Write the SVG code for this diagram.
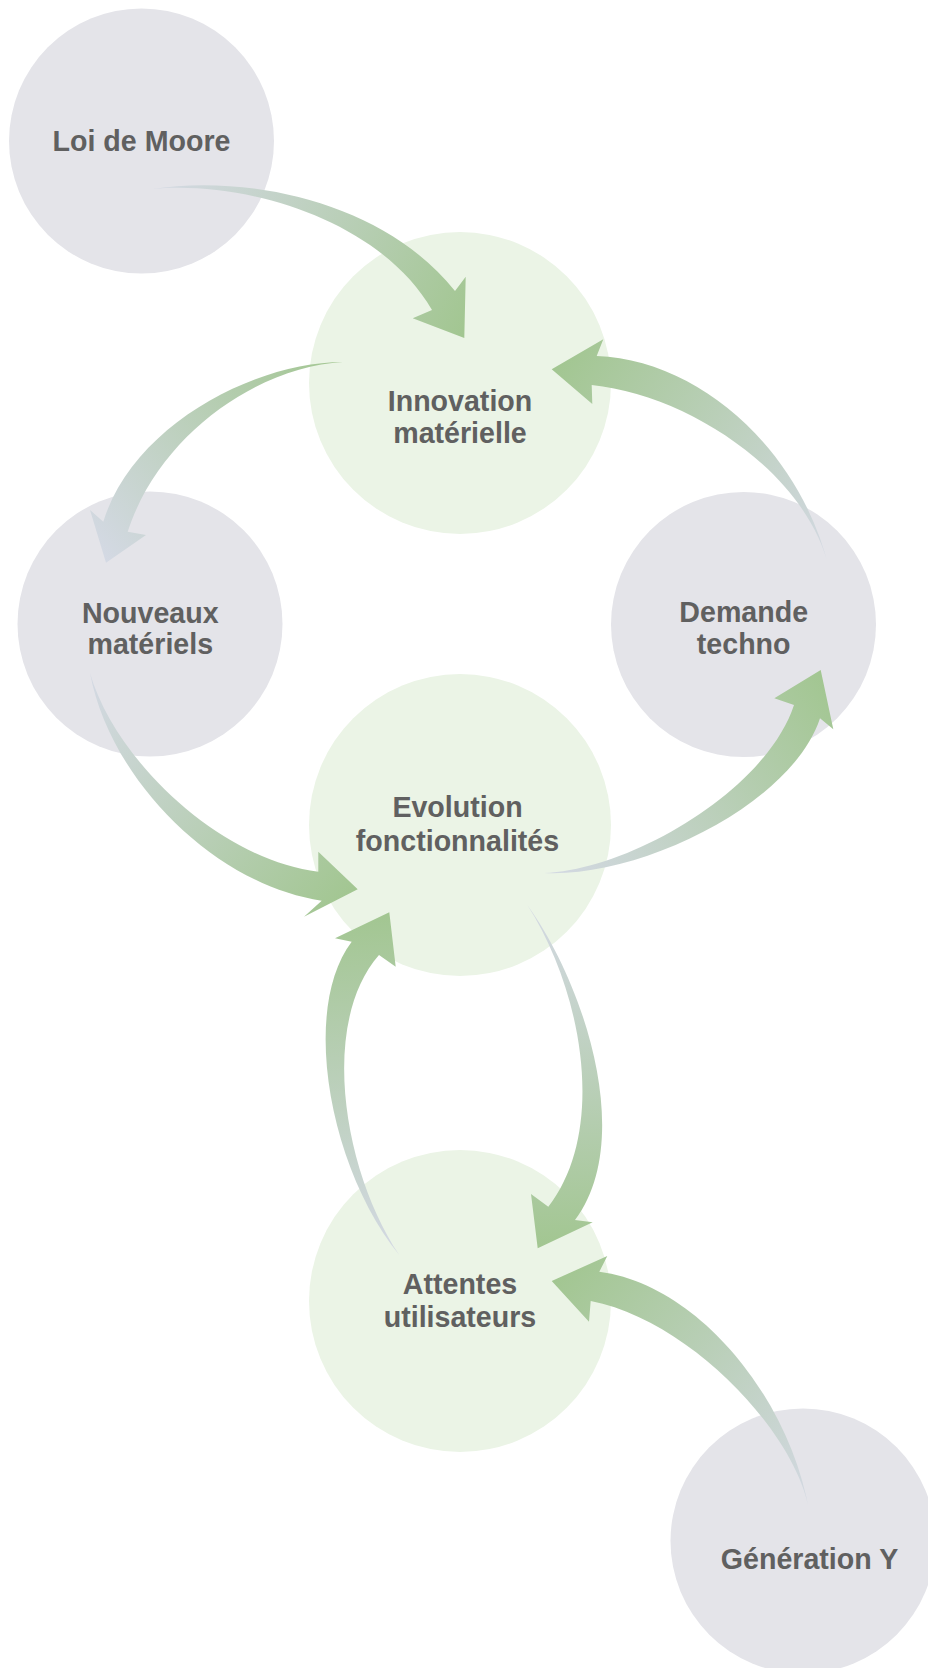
<svg xmlns="http://www.w3.org/2000/svg" width="928" height="1668" viewBox="0 0 928 1668">
  <style>
    .n-gray{fill:#e4e4e9}
    .n-green{fill:#ebf4e6}
    .label{font-family:"Liberation Sans",Arial,Helvetica,sans-serif;font-weight:bold;font-size:28.6px;fill:#606060;text-anchor:middle}
    .s-gray{stop-color:#d4d9e4}
    .s-green{stop-color:#a2c691}
  </style>
  <defs>
    <!-- each gradient runs from the arrow's tail to its tip -->
    <linearGradient id="gr-moore" gradientUnits="userSpaceOnUse" x1="152" y1="189" x2="464" y2="338">
      <stop offset="0" class="s-gray"/><stop offset="1" class="s-green"/>
    </linearGradient>
    <linearGradient id="gr-nouveaux" gradientUnits="userSpaceOnUse" x1="343" y1="362" x2="106" y2="563">
      <stop offset="0" class="s-green"/><stop offset="1" class="s-gray"/>
    </linearGradient>
    <linearGradient id="gr-demande" gradientUnits="userSpaceOnUse" x1="829" y1="568" x2="552" y2="369">
      <stop offset="0" class="s-gray"/><stop offset="1" class="s-green"/>
    </linearGradient>
    <linearGradient id="gr-nouv-evo" gradientUnits="userSpaceOnUse" x1="90" y1="673" x2="358" y2="889">
      <stop offset="0" class="s-gray"/><stop offset="1" class="s-green"/>
    </linearGradient>
    <linearGradient id="gr-evo-dem" gradientUnits="userSpaceOnUse" x1="544" y1="873" x2="821" y2="670">
      <stop offset="0" class="s-gray"/><stop offset="1" class="s-green"/>
    </linearGradient>
    <linearGradient id="gr-evo-att" gradientUnits="userSpaceOnUse" x1="527" y1="905" x2="538" y2="1248">
      <stop offset="0" class="s-gray"/><stop offset="1" class="s-green"/>
    </linearGradient>
    <linearGradient id="gr-att-evo" gradientUnits="userSpaceOnUse" x1="399" y1="1255" x2="389" y2="912">
      <stop offset="0" class="s-gray"/><stop offset="1" class="s-green"/>
    </linearGradient>
    <linearGradient id="gr-geny" gradientUnits="userSpaceOnUse" x1="809" y1="1512" x2="552" y2="1281">
      <stop offset="0" class="s-gray"/><stop offset="1" class="s-green"/>
    </linearGradient>
  </defs>

  <g id="nodes">
    <g id="loi-de-moore">
      <circle class="n-gray" cx="141.5" cy="141" r="132.5"/>
      <text class="label" x="141.5" y="151">Loi de Moore</text>
    </g>
    <g id="innovation-materielle">
      <circle class="n-green" cx="460" cy="383" r="151"/>
      <text class="label" x="460" y="410.7">Innovation</text>
      <text class="label" x="460" y="443">matérielle</text>
    </g>
    <g id="nouveaux-materiels">
      <circle class="n-gray" cx="150" cy="624" r="132.5"/>
      <text class="label" x="150.3" y="622.7">Nouveaux</text>
      <text class="label" x="150.3" y="654.3">matériels</text>
    </g>
    <g id="demande-techno">
      <circle class="n-gray" cx="743.5" cy="624.5" r="132.5"/>
      <text class="label" x="743.7" y="622.3">Demande</text>
      <text class="label" x="743.7" y="654.3">techno</text>
    </g>
    <g id="evolution-fonctionnalites">
      <circle class="n-green" cx="460" cy="825" r="151"/>
      <text class="label" x="457.5" y="817.3">Evolution</text>
      <text class="label" x="457.5" y="850.7">fonctionnalités</text>
    </g>
    <g id="attentes-utilisateurs">
      <circle class="n-green" cx="460" cy="1301" r="151"/>
      <text class="label" x="460" y="1294">Attentes</text>
      <text class="label" x="460" y="1327">utilisateurs</text>
    </g>
    <g id="generation-y">
      <circle class="n-gray" cx="803" cy="1541" r="132.5"/>
      <text class="label" x="809.5" y="1569.3">Génération Y</text>
    </g>
  </g>

  <!-- tapered curved arrows: outer edge, arrowhead, inner edge back to the tail -->
  <g id="connectors">
    <path id="moore-to-innovation" fill="url(#gr-moore)"
      d="M152,189 C250,174 385,203 455,291 L465.7,276.7 L464.3,338 L412.7,318.3 L432,310 C380,220 245,180 152,189 Z"/>
    <path id="innovation-to-nouveaux" fill="url(#gr-nouveaux)"
      d="M343,362 C255,362 133,425 103.3,521.7 L90,510 L106,562.7 L146,535 L127.7,531.7 C160,432 262,366 343,362 Z"/>
    <path id="demande-to-innovation" fill="url(#gr-demande)"
      d="M829,568 C800,450 700,360 596.7,356 L603.3,339.3 L551.7,369.3 L592.3,404 L591.7,385 C690,395 807,474 829,568 Z"/>
    <path id="nouveaux-to-evolution" fill="url(#gr-nouv-evo)"
      d="M90,673 C110,780 215,885 321.7,900.7 L304,916.7 L357.7,889.3 L318.3,851.7 L318.3,871.7 C220,860 115,760 90,673 Z"/>
    <path id="evolution-to-demande" fill="url(#gr-evo-dem)"
      d="M544,873 C640,878 792,804 820,718.3 L833.3,729.3 L820.7,670 L774.3,698.3 L794,705 C766,790.5 630,870 544,873 Z"/>
    <path id="evolution-to-attentes" fill="url(#gr-evo-att)"
      d="M527.3,905 C585,985 635,1140 575,1220 L592.7,1222.3 L537.7,1248.3 L531,1194 L548.3,1206.7 C608,1130 582,990 527.3,905 Z"/>
    <path id="attentes-to-evolution" fill="url(#gr-att-evo)"
      d="M399.3,1255 C330,1170 300,1010 351.7,941.7 L335,938.3 L389.3,912.3 L395.7,966.7 L379,955 C318,1025 345,1175 399.3,1255 Z"/>
    <path id="generation-y-to-attentes" fill="url(#gr-geny)"
      d="M809.3,1511.7 C790,1400 700,1285 599.3,1271.7 L607.3,1256 L551.7,1281 L589,1321.7 L590.7,1301 C690,1320 797,1434 809.3,1511.7 Z"/>
  </g>
</svg>
